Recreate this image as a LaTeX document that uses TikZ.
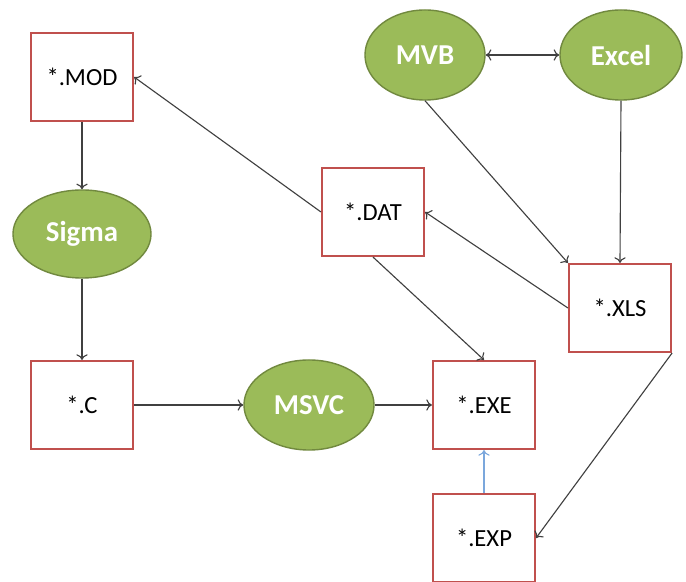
\documentclass[tikz,border=0pt]{standalone}
\usepackage{fontspec}
\setmainfont{Carlito}
\usepackage{tikz}
\usetikzlibrary{shapes.geometric,arrows.meta}

\definecolor{boxred}{HTML}{C0504D}
\definecolor{toolgreen}{HTML}{9BBB59}
\definecolor{tooledge}{HTML}{71893F}
\definecolor{linkgray}{HTML}{404040}
\definecolor{linkblue}{HTML}{7BA7DC}

\begin{document}
\begin{tikzpicture}[x=0.025cm,y=-0.025cm,
    filebox/.style={draw=boxred,line width=1.5pt,fill=white,minimum width=2.55cm,minimum height=2.2cm,
        inner sep=0pt,font=\fontsize{17.5}{20}\selectfont},
    tool/.style={ellipse,draw=tooledge,line width=1pt,fill=toolgreen,text=white,inner sep=0pt,
        font=\fontsize{20.5}{24}\selectfont\bfseries},
    link/.style={-{To[length=4pt,width=8pt]},draw=linkgray,line width=0.8pt}]
    \useasboundingbox (0,0) rectangle (686,582);
    % files
    \node[filebox] (mod) at (82,77) {*.MOD};
    \node[filebox] (c) at (82,405) {*.C};
    \node[filebox] (dat) at (373,212) {*.DAT};
    \node[filebox] (xls) at (620,308) {*.XLS};
    \node[filebox] (exe) at (484,405) {*.EXE};
    \node[filebox] (exp) at (484,538) {*.EXP};
    % tools
    \node[tool,minimum width=3.45cm,minimum height=2.2cm] (sigma) at (82,234) {Sigma};
    \node[tool,minimum width=3.25cm,minimum height=2.25cm] (msvc) at (309,405) {MSVC};
    \node[tool,minimum width=3cm,minimum height=2.25cm] (mvb) at (425,55) {MVB};
    \node[tool,minimum width=3.05cm,minimum height=2.25cm] (excel) at (621,55) {Excel};
    % links
    \draw[link] (mod) -- (sigma);
    \draw[link] (sigma) -- (c);
    \draw[link] (c) -- (msvc);
    \draw[link] (msvc) -- (exe);
    \draw[link,{To[length=4pt,width=8pt]}-{To[length=4pt,width=8pt]}] (mvb) -- (excel);
    \draw[link] (mvb.south) -- (xls.north west);
    \draw[link] (excel.south) -- (xls.north);
    \draw[link] (xls.west) -- (dat.east);
    \draw[link] (dat.west) -- (mod.east);
    \draw[link] (dat.south) -- (exe.north);
    \draw[link] (xls.south east) -- (exp.east);
    \draw[link,draw=linkblue] (exp) -- (exe);
\end{tikzpicture}
\end{document}
